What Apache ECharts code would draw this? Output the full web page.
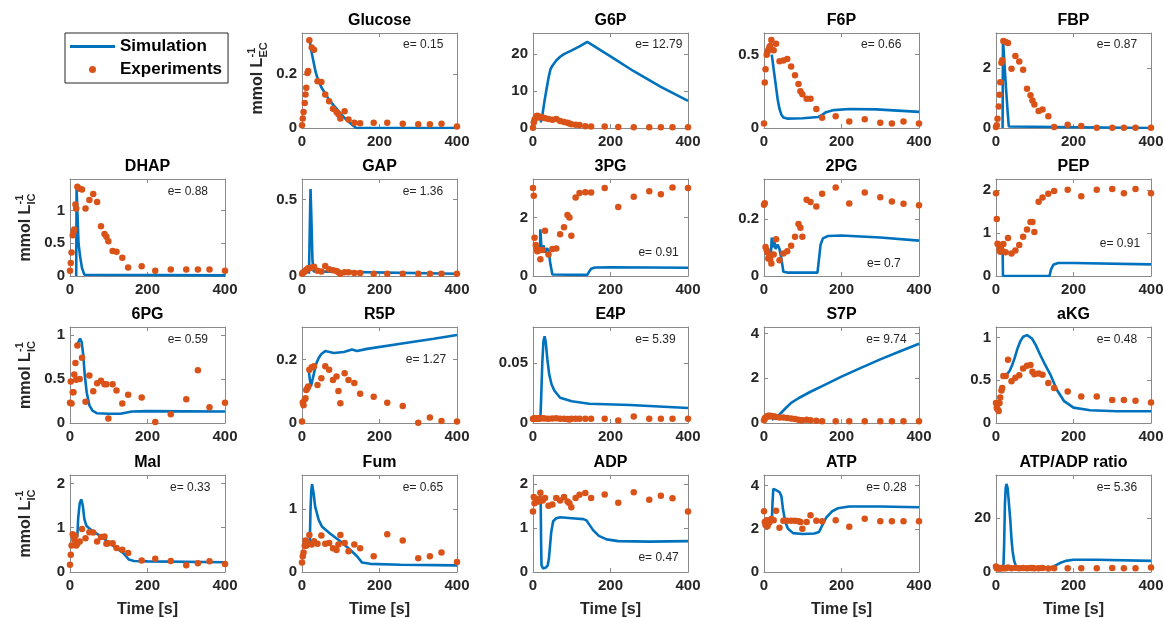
<!DOCTYPE html>
<html>
<head>
<meta charset="utf-8">
<script src="https://cdn.jsdelivr.net/npm/echarts@6/dist/echarts.min.js"></script>
<style>
  html, body { margin: 0; padding: 0; background: #ffffff; }
  #chart { width: 1164px; height: 618px; }
</style>
</head>
<body>
<div id="chart"></div>
<script>
// ---- Sampling times of the measurements [s] ----
const tExp = [0, 2, 4, 7, 9, 11, 14, 16, 19, 25, 31, 40, 50, 60, 70, 80, 89, 94, 99,
              110, 120, 135, 150, 185, 220, 260, 300, 330, 360, 400];

// ---- Measured concentrations (one value per sampling time) ----
const glucoseExp = [0.01, 0.035, 0.06, 0.093, 0.125, 0.15, 0.205, 0.212, 0.327, 0.30, 0.292, 0.174, 0.171, 0.125, 0.10,
  0.072, 0.06, 0.051, 0.035, 0.062, 0.032, 0.02, 0.018, 0.02, 0.02, 0.016, 0.014, 0.014, 0.016, 0.006];
const g6pExp = [0.1, 1.5, 2.2, 2.8, 3.2, 3.3, 3.0, 2.8, 3.0, 2.8, 2.6, 2.4, 2.2, 2.4, 1.9,
  1.6, 1.4, 1.2, 1.0, 0.9, 0.8, 0.5, 0.4, 0.4, 0.3, 0.2, 0.2, 0.2, 0.2, 0.2];
const f6pExp = [0.03, 0.31, 0.40, 0.50, 0.52, 0.53, 0.55, 0.56, 0.60, 0.53, 0.575, 0.455, 0.46, 0.47, 0.42,
  0.36, 0.30, 0.25, 0.23, 0.2, 0.2, 0.13, 0.07, 0.08, 0.045, 0.06, 0.036, 0.03, 0.045, 0.03];
const fbpExp = [0.03, 0.09, 0.31, 0.72, 1.11, 1.53, 2.18, 2.26, 2.9, 2.87, 2.84, 1.98, 2.4, 2.22, 1.94,
  1.31, 1.09, 0.92, 0.78, 0.57, 0.62, 0.39, 0.03, 0.11, 0.07, 0.01, 0.01, 0.01, 0.01, 0.01];
const dhapExp = [0.08, 0.2, 0.36, 0.62, 0.67, 0.71, 1.09, 1.03, 1.36, 1.33, 1.32, 1.03, 1.16, 1.25, 1.13,
  0.76, 0.64, 0.6, 0.53, 0.38, 0.37, 0.28, 0.13, 0.15, 0.08, 0.1, 0.1, 0.1, 0.1, 0.08];
const gapExp = [0.015, 0.02, 0.025, 0.03, 0.035, 0.04, 0.045, 0.05, 0.05, 0.055, 0.06, 0.035, 0.03, 0.065, 0.045,
  0.038, 0.033, 0.025, 0.015, 0.025, 0.025, 0.02, 0.02, 0.015, 0.015, 0.015, 0.015, 0.015, 0.015, 0.015];
const pg3Exp = [3.01, 2.75, 1.31, 1.06, 0.95, 0.85, 0.9, 0.88, 0.57, 0.89, 1.55, 0.74, 0.92, 0.94, 1.43,
  1.67, 2.09, 2.0, 1.38, 2.69, 2.84, 2.87, 2.86, 3.01, 2.36, 2.71, 2.9, 2.8, 3.03, 3.01];
const pg2Exp = [0.25, 0.255, 0.102, 0.09, 0.082, 0.061, 0.07, 0.06, 0.044, 0.075, 0.129, 0.055, 0.079, 0.087, 0.106,
  0.138, 0.182, 0.169, 0.138, 0.267, 0.259, 0.244, 0.288, 0.31, 0.254, 0.293, 0.276, 0.261, 0.253, 0.248];
const pepExp = [1.92, 1.32, 0.75, 0.72, 0.6, 0.56, 0.72, 0.58, 0.74, 0.55, 0.88, 0.52, 0.59, 0.72, 0.91,
  1.08, 1.25, 1.25, 1.02, 1.72, 1.82, 1.91, 1.97, 2.0, 1.85, 2.0, 2.02, 1.92, 2.02, 1.92];
const pg6Exp = [0.23, 0.47, 0.22, 0.35, 0.35, 0.55, 0.68, 0.49, 0.88, 0.5, 0.74, 0.24, 0.54, 0.36, 0.45,
  0.48, 0.44, 0.44, 0.05, 0.44, 0.37, 0.22, 0.32, 0.29, 0.01, 0.1, 0.27, 0.6, 0.18, 0.23];
const r5pExp = [0.005, 0.065, 0.056, 0.074, 0.078, 0.104, 0.11, 0.115, 0.168, 0.176, 0.179, 0.12, 0.141, 0.179, 0.168,
  0.136, 0.147, 0.101, 0.062, 0.157, 0.136, 0.126, 0.092, 0.083, 0.064, 0.054, 0.001, 0.017, 0.006, 0.005];
const e4pExp = [0.0035, 0.0035, 0.004, 0.0035, 0.004, 0.0035, 0.004, 0.0035, 0.004, 0.004, 0.0038, 0.0035, 0.0038, 0.004, 0.0035,
  0.0035, 0.0033, 0.003, 0.0035, 0.0035, 0.0035, 0.0035, 0.0035, 0.0035, 0.002, 0.0055, 0.0035, 0.0035, 0.0035, 0.0035];
const s7pExp = [0.12, 0.2, 0.25, 0.28, 0.3, 0.32, 0.3, 0.32, 0.3, 0.3, 0.27, 0.25, 0.25, 0.22, 0.2,
  0.18, 0.15, 0.12, 0.12, 0.15, 0.12, 0.1, 0.08, 0.08, 0.08, 0.08, 0.08, 0.08, 0.08, 0.08];
const akgExp = [0.235, 0.18, 0.16, 0.14, 0.235, 0.3, 0.38, 0.41, 0.55, 0.55, 0.74, 0.49, 0.53, 0.56, 0.64,
  0.67, 0.68, 0.6, 0.57, 0.58, 0.565, 0.47, 0.41, 0.37, 0.31, 0.31, 0.27, 0.27, 0.26, 0.24];
const malExp = [0.165, 0.39, 0.6, 0.85, 0.82, 0.73, 0.82, 0.6, 0.64, 0.69, 0.97, 0.76, 0.9, 0.89, 0.69,
  0.79, 0.8, 0.64, 0.65, 0.65, 0.54, 0.5, 0.43, 0.26, 0.3, 0.25, 0.15, 0.2, 0.24, 0.18];
const fumExp = [0.15, 0.25, 0.31, 0.42, 0.5, 0.42, 0.47, 0.45, 0.59, 0.44, 0.49, 0.45, 0.58, 0.45, 0.46,
  0.38, 0.35, 0.44, 0.59, 0.46, 0.33, 0.44, 0.38, 0.25, 0.6, 0.5, 0.22, 0.25, 0.31, 0.16];
const adpExp = [1.37, 1.7, 1.56, 1.66, 1.6, 1.62, 1.6, 1.65, 1.8, 1.62, 1.68, 1.5, 1.53, 1.68, 1.62,
  1.7, 1.6, 1.56, 1.47, 1.68, 1.75, 1.79, 1.68, 1.76, 1.57, 1.81, 1.64, 1.73, 1.67, 1.37];
const atpExp = [2.81, 2.32, 2.17, 2.4, 2.12, 2.25, 2.3, 2.4, 2.45, 2.4, 2.83, 2.05, 2.37, 2.37, 2.37,
  2.37, 2.35, 2.32, 2.0, 2.32, 2.63, 2.37, 2.35, 2.4, 2.09, 2.46, 2.35, 2.35, 2.35, 2.35];
const ratioExp = [2.0, 1.4, 1.4, 1.45, 1.3, 1.4, 1.45, 1.45, 1.35, 1.4, 1.7, 1.35, 1.55, 1.4, 1.45,
  1.4, 1.45, 1.5, 1.35, 1.4, 1.5, 1.3, 1.4, 1.35, 1.35, 1.35, 1.45, 1.35, 1.4, 1.7];

// ---- Model trajectories: [time s, concentration] ----
const glucoseSim = [[20,0.325],[25,0.28],[30,0.245],[35,0.21],[40,0.185],[50,0.152],[60,0.128],[70,0.105],[80,0.087],
  [90,0.07],[100,0.053],[110,0.037],[120,0.024],[130,0.011],[140,0],[400,0]];
const g6pSim = [[20,1.5],[25,4],[30,7.5],[35,10.5],[40,13.5],[45,15.8],[50,16.8],[60,18.2],[70,19.2],[80,19.9],
  [100,20.9],[120,22],[140,23.2],[200,19.3],[260,15.3],[330,11.1],[400,7.3]];
const f6pSim = [[20,0.5],[25,0.4],[30,0.3],[35,0.2],[40,0.13],[45,0.09],[50,0.072],[60,0.064],[100,0.066],[140,0.075],
  [150,0.09],[160,0.108],[180,0.122],[220,0.13],[290,0.127],[400,0.11]];
const fbpSim = [[17,0],[18,2.95],[22,2.1],[26,1.3],[30,0.55],[33,0.05],[35,0],[400,0]];
const dhapSim = [[16,0],[17,1.33],[20,1.33],[22,0.5],[26,0.3],[31,0.12],[37,0.02],[400,0.01]];
const gapSim = [[18,0.015],[20,0.3],[22,0.57],[24,0.4],[27,0.1],[30,0.03],[35,0.02],[400,0.015]];
const pg3Sim = [[18,0.9],[19,1.6],[22,0.9],[27,1.05],[31,0.8],[36,0.95],[40,0.88],[45,0.4],[50,0.05],[140,0.04],
  [145,0.15],[150,0.25],[160,0.29],[200,0.3],[400,0.28]];
const pg2Sim = [[18,0.08],[20,0.135],[22,0.1],[26,0.125],[30,0.095],[35,0.11],[40,0.095],[45,0.06],[50,0.015],[60,0.012],
  [138,0.012],[142,0.06],[146,0.11],[152,0.132],[165,0.14],[200,0.142],[300,0.135],[400,0.124]];
const pepSim = [[17,0.72],[18,0],[138,0],[142,0.15],[148,0.26],[160,0.3],[200,0.3],[400,0.27]];
const pg6Sim = [[20,0.9],[26,0.96],[30,0.92],[34,0.78],[38,0.55],[43,0.35],[50,0.2],[58,0.14],[70,0.11],[100,0.105],
  [130,0.105],[160,0.13],[200,0.135],[400,0.13]];
const r5pSim = [[17,0.171],[20,0.14],[23,0.115],[30,0.152],[36,0.185],[43,0.205],[50,0.218],[60,0.227],[82,0.221],
  [108,0.224],[129,0.232],[142,0.227],[168,0.234],[254,0.25],[340,0.266],[400,0.278]];
const e4pSim = [[19,0.003],[21,0.02],[24,0.05],[27,0.068],[30,0.072],[33,0.067],[37,0.053],[42,0.04],[48,0.032],
  [55,0.027],[70,0.021],[100,0.018],[145,0.016],[150,0.0155],[250,0.015],[400,0.0125]];
const s7pSim = [[20,0.15],[30,0.22],[40,0.38],[55,0.65],[70,0.9],[90,1.12],[120,1.4],[150,1.65],[200,2.08],
  [250,2.47],[300,2.85],[350,3.2],[400,3.55]];
const akgSim = [[18,0.55],[28,0.57],[35,0.61],[41,0.67],[48,0.76],[56,0.88],[63,0.96],[70,1.01],[80,1.03],[93,0.99],
  [103,0.91],[114,0.8],[127,0.68],[140,0.57],[157,0.39],[175,0.26],[200,0.18],[243,0.15],[312,0.137],[400,0.137]];
const malSim = [[19,0.8],[21,1.2],[25,1.55],[29,1.64],[33,1.5],[37,1.2],[42,1.05],[50,0.98],[60,0.92],[85,0.77],
  [110,0.6],[137,0.43],[145,0.35],[152,0.28],[165,0.25],[200,0.24],[400,0.22]];
const fumSim = [[20,0.45],[22,1.0],[24,1.3],[26,1.4],[30,1.25],[34,1.04],[43,0.83],[52,0.72],[73,0.61],[99,0.49],
  [125,0.35],[142,0.25],[155,0.15],[176,0.13],[254,0.116],[400,0.106]];
const adpSim = [[19,1.75],[20,1.5],[21,0.6],[22,0.15],[26,0.08],[33,0.1],[38,0.15],[41,0.3],[44,0.6],[47,0.9],[52,1.15],
  [60,1.22],[70,1.24],[100,1.22],[130,1.2],[138,1.17],[145,1.08],[155,0.95],[170,0.82],[190,0.74],[220,0.7],[300,0.69],[400,0.7]];
const atpSim = [[20,2.3],[22,3.2],[24,3.85],[30,3.8],[40,3.7],[45,3.5],[49,2.9],[55,2.3],[62,2.0],[75,1.8],[100,1.76],
  [130,1.78],[142,1.85],[150,2.15],[160,2.5],[175,2.8],[190,2.95],[220,3.03],[300,3.03],[400,3.0]];
const ratioSim = [[19,1.5],[21,10],[23,25],[25,31],[27,32.5],[30,31],[33,26],[37,19],[40,12],[43,7.5],[47,4],[52,2],
  [70,1.6],[140,1.6],[150,2.2],[165,3.3],[180,4.1],[200,4.5],[260,4.5],[400,4.1]];

// ---- Panel titles and fit errors ----
const metabolites = ['Glucose', 'G6P', 'F6P', 'FBP', 'DHAP', 'GAP', '3PG', '2PG', 'PEP', '6PG',
                     'R5P', 'E4P', 'S7P', 'aKG', 'Mal', 'Fum', 'ADP', 'ATP', 'ATP/ADP ratio'];
const errorValues = ['0.15', '12.79', '0.66', '0.87', '0.88', '1.36', '0.91', '0.7', '0.91', '0.59',
                     '1.27', '5.39', '9.74', '0.48', '0.33', '0.65', '0.47', '0.28', '5.36'];
const simSets = [glucoseSim, g6pSim, f6pSim, fbpSim, dhapSim, gapSim, pg3Sim, pg2Sim, pepSim, pg6Sim,
                 r5pSim, e4pSim, s7pSim, akgSim, malSim, fumSim, adpSim, atpSim, ratioSim];
const expSets = [glucoseExp, g6pExp, f6pExp, fbpExp, dhapExp, gapExp, pg3Exp, pg2Exp, pepExp, pg6Exp,
                 r5pExp, e4pExp, s7pExp, akgExp, malExp, fumExp, adpExp, atpExp, ratioExp];

// ---- Layout: grid cell, y range, and where the error note sits (fractions of the box) ----
const panels = [
  { row: 0, col: 1, yMax: 0.354, yStep: 0.2,  ex: 0.652, ey: 0.125, unit: 'EC' },
  { row: 0, col: 2, yMax: 25.6,  yStep: 10,   ex: 0.66,  ey: 0.125 },
  { row: 0, col: 3, yMax: 0.648, yStep: 0.5,  ex: 0.626, ey: 0.125 },
  { row: 0, col: 4, yMax: 3.17,  yStep: 2,    ex: 0.65,  ey: 0.125 },
  { row: 1, col: 0, yMax: 1.48,  yStep: 0.5,  ex: 0.63,  ey: 0.13, unit: 'IC' },
  { row: 1, col: 1, yMax: 0.635, yStep: 0.5,  ex: 0.65,  ey: 0.13 },
  { row: 1, col: 2, yMax: 3.32,  yStep: 2,    ex: 0.68,  ey: 0.76 },
  { row: 1, col: 3, yMax: 0.34,  yStep: 0.2,  ex: 0.665, ey: 0.87 },
  { row: 1, col: 4, yMax: 2.25,  yStep: 1,    ex: 0.67,  ey: 0.67 },
  { row: 2, col: 0, yMax: 1.09,  yStep: 0.5,  ex: 0.63,  ey: 0.13, unit: 'IC' },
  { row: 2, col: 1, yMax: 0.303, yStep: 0.2,  ex: 0.67,  ey: 0.34 },
  { row: 2, col: 2, yMax: 0.0797,yStep: 0.05, ex: 0.66,  ey: 0.13 },
  { row: 2, col: 3, yMax: 4.3,   yStep: 2,    ex: 0.66,  ey: 0.13 },
  { row: 2, col: 4, yMax: 1.125, yStep: 0.5,  ex: 0.65,  ey: 0.13 },
  { row: 3, col: 0, yMax: 2.19,  yStep: 1,    ex: 0.645, ey: 0.13, unit: 'IC' },
  { row: 3, col: 1, yMax: 1.545, yStep: 1,    ex: 0.65,  ey: 0.13 },
  { row: 3, col: 2, yMax: 2.2,   yStep: 1,    ex: 0.68,  ey: 0.85 },
  { row: 3, col: 3, yMax: 4.49,  yStep: 2,    ex: 0.66,  ey: 0.13 },
  { row: 3, col: 4, yMax: 35.8,  yStep: 20,   ex: 0.65,  ey: 0.13 }
];

const colLeft = [70, 302, 533, 764, 996];
const rowTop = [33, 179, 327, 475];
const rowHeight = [95, 97, 96, 97];
const boxWidth = 155;

const FONT = '"Liberation Sans", Arial, Helvetica, sans-serif';
const BLUE = '#0072BD';
const ORANGE = '#D95319';
const FRAME = '#8a8a8a';
const INK = '#262626';

function niceNum(v) { return String(parseFloat(v.toFixed(6))); }

const grids = [], xAxes = [], yAxes = [], series = [], graphics = [];

panels.forEach((p, i) => {
  const left = colLeft[p.col], top = rowTop[p.row], h = rowHeight[p.row], w = boxWidth;
  grids.push({ left: left, top: top, width: w, height: h, outerBoundsMode: 'none', containLabel: false });

  const lineStyle = { color: FRAME, width: 1 };
  const tick = { show: true, inside: true, length: 4, lineStyle: { color: FRAME, width: 1 } };
  const isBottomRow = p.row === 3;

  // bottom x axis
  xAxes.push({
    gridIndex: i, type: 'value', position: 'bottom', min: 0, max: 400, interval: 200,
    axisLine: { show: true, onZero: false, lineStyle }, axisTick: tick, splitLine: { show: false },
    axisLabel: { show: true, margin: 6, color: INK, fontFamily: FONT, fontWeight: 'bold', fontSize: 15 },
    name: isBottomRow ? 'Time [s]' : '', nameLocation: 'middle', nameGap: 30,
    nameTextStyle: { color: INK, fontFamily: FONT, fontWeight: 'bold', fontSize: 16 }
  });
  // top mirror
  xAxes.push({
    gridIndex: i, type: 'value', position: 'top', min: 0, max: 400, interval: 200,
    axisLine: { show: true, onZero: false, lineStyle }, axisTick: tick, splitLine: { show: false },
    axisLabel: { show: false }
  });
  const step = p.yStep;
  // left y axis
  yAxes.push({
    gridIndex: i, type: 'value', position: 'left', min: 0, max: p.yMax, interval: step,
    axisLine: { show: true, onZero: false, lineStyle }, axisTick: tick, splitLine: { show: false },
    axisLabel: {
      show: true, margin: 5, color: INK, fontFamily: FONT, fontWeight: 'bold', fontSize: 15,
      formatter: v => (Math.abs(v / step - Math.round(v / step)) < 1e-6 ? niceNum(v) : '')
    }
  });
  // right mirror
  yAxes.push({
    gridIndex: i, type: 'value', position: 'right', min: 0, max: p.yMax, interval: step,
    axisLine: { show: true, onZero: false, lineStyle }, axisTick: tick, splitLine: { show: false },
    axisLabel: { show: false }
  });

  series.push({
    name: 'Simulation', type: 'line', xAxisIndex: 2 * i, yAxisIndex: 2 * i,
    data: simSets[i], symbol: 'none', showSymbol: false, clip: true,
    lineStyle: { color: BLUE, width: 2.6 }, itemStyle: { color: BLUE },
    animation: false, z: 2
  });
  series.push({
    name: 'Experiments', type: 'scatter', xAxisIndex: 2 * i, yAxisIndex: 2 * i,
    data: tExp.map((t, k) => [t, expSets[i][k]]), symbol: 'circle', symbolSize: 6.5,
    itemStyle: { color: ORANGE, opacity: 1 }, animation: false, z: 3
  });

  // panel title
  graphics.push({
    type: 'text', x: left + w / 2, y: top - 12, z: 100,
    style: { text: metabolites[i], font: 'bold 16px ' + FONT, fill: '#000', align: 'center', verticalAlign: 'middle' }
  });
  // fit error note
  graphics.push({
    type: 'text', x: left + p.ex * w, y: top + p.ey * h, z: 100,
    style: { text: 'e= ' + errorValues[i], font: '12px ' + FONT, fill: INK, align: 'left', verticalAlign: 'middle' }
  });
  // unit label on the first box of each row
  if (p.unit) {
    graphics.push({
      type: 'group', x: left - 44, y: top + h / 2, rotation: Math.PI / 2, z: 100,
      children: [
        { type: 'text', x: -34, y: 0, style: { text: 'mmol L', font: 'bold 16px ' + FONT, fill: INK, align: 'left', verticalAlign: 'middle' } },
        { type: 'text', x: 23, y: -6, style: { text: '-1', font: 'bold 11px ' + FONT, fill: INK, align: 'left', verticalAlign: 'middle' } },
        { type: 'text', x: 23, y: 6, style: { text: p.unit, font: 'bold 11px ' + FONT, fill: INK, align: 'left', verticalAlign: 'middle' } }
      ]
    });
  }
});

const chart = echarts.init(document.getElementById('chart'), null, { renderer: 'canvas' });
chart.setOption({
  backgroundColor: '#ffffff',
  animation: false,
  grid: grids,
  xAxis: xAxes,
  yAxis: yAxes,
  legend: {
    // plain bar for the model line, dot for the measurements
    data: [
      { name: 'Simulation', icon: 'path://M0,0H45V3H0Z' },
      { name: 'Experiments', icon: 'circle' }
    ],
    orient: 'vertical', left: 65, top: 33,
    itemWidth: 45, itemHeight: 7, itemGap: 6,
    padding: [5, 6, 5, 5],
    borderColor: '#262626', borderWidth: 1, borderRadius: 0,
    backgroundColor: '#ffffff',
    selectedMode: false,
    textStyle: { color: '#000', fontFamily: FONT, fontWeight: 'bold', fontSize: 17 }
  },
  graphic: { elements: graphics },
  series: series
});
</script>
</body>
</html>
